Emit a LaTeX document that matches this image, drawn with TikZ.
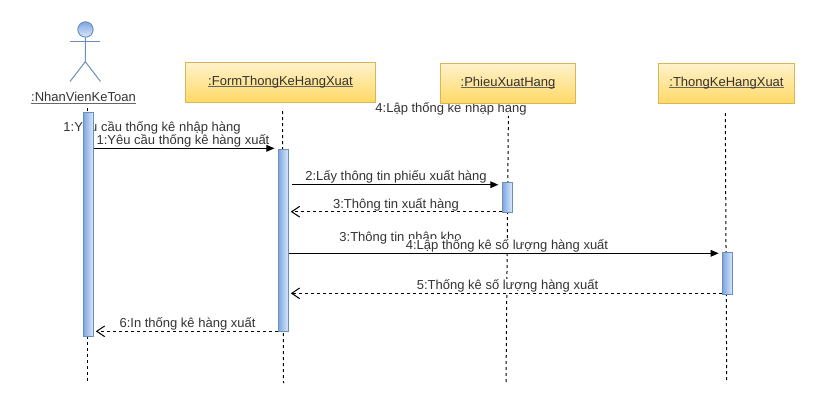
\documentclass[tikz,border=0pt]{standalone}
\usepackage{fontspec}
\setmainfont{Liberation Sans}
\usetikzlibrary{arrows.meta}
\definecolor{txt}{HTML}{333333}
\definecolor{blueline}{HTML}{6C8EBF}
\definecolor{bluelight}{HTML}{DAE8FC}
\definecolor{bluedark}{HTML}{7EA6E0}
\definecolor{yellowline}{HTML}{D6B656}
\definecolor{yellowlight}{HTML}{FFF2CC}
\definecolor{yellowdark}{HTML}{FFD966}
\newcommand{\ulname}[1]{\setbox0=\hbox{#1}\rlap{\textcolor{black!60}{\rule[-1.1pt]{\wd0}{.7pt}}}\box0}
\tikzset{
  objbox/.style={draw=yellowline,line width=.75pt,top color=yellowlight,bottom color=yellowdark,minimum height=30pt,inner sep=0pt,text=txt,font=\fontsize{9.75pt}{11pt}\selectfont},
  actbar/.style={draw=blueline,line width=.75pt,left color=bluedark,right color=bluelight,minimum width=7.5pt,inner sep=0pt},
  life/.style={line width=.75pt,dash pattern=on 2.25pt off 2.25pt},
  call/.style={line width=.75pt,-{Triangle[length=6pt,width=5pt]},shorten >=2.5pt},
  reply/.style={line width=.75pt,dash pattern=on 2.25pt off 2.25pt,-{Straight Barb[length=6pt,width=8pt]},shorten >=1.5pt},
  msg/.style={fill=white,inner sep=0pt,minimum height=10.5pt,text=txt,font=\fontsize{9.75pt}{10.5pt}\selectfont},
  ghost/.style={inner sep=0pt,minimum height=10.5pt,text=txt,font=\fontsize{9.75pt}{10.5pt}\selectfont},
  actorline/.style={draw=blueline,line width=.75pt},
}
\begin{document}
\begin{tikzpicture}[x=0.75pt,y=-0.75pt]
\useasboundingbox (0,0) rectangle (817,415);
% free ends
\coordinate (t1) at (87.5,108);
\coordinate (e1) at (87.5,383);
\coordinate (t2) at (282.5,111);
\coordinate (e2) at (283.5,383);
\coordinate (t3) at (508.5,103);
\coordinate (e3) at (506,383);
\coordinate (t4) at (725.3,113);
\coordinate (e4) at (726.7,383);
\coordinate (m1) at (0,148.3);
\coordinate (m2) at (0,184.7);
\coordinate (m3) at (0,211.7);
\coordinate (m4) at (0,253.3);
\coordinate (m5) at (0,293.3);
\coordinate (m6) at (0,331.3);
% lifelines
\draw[life] (t1) -- (e1);
\draw[life] (t2) -- (e2);
\draw[life] (t3) -- (e3);
\draw[life] (t4) -- (e4);
% labels that lie behind other items
\node[ghost,fill=white] (g4) at (451,108.7) {4:Lập thống kê nhập hàng};
\node[ghost] (g1) at (152,128) {1:Yêu cầu thống kê nhập hàng};
\node[ghost] (g3) at (400.5,238) {3:Thông tin nhập kho};
% objects
\node[objbox,minimum width=143pt] (form) at (280.5,82) {\raisebox{-1.5pt}{\ulname{:FormThongKeHangXuat}}};
\node[objbox,minimum width=101.5pt] (phieu) at (508,83.3) {\raisebox{-1.5pt}{\ulname{:PhieuXuatHang}}};
\node[objbox,minimum width=102.3pt] (thong) at (726.5,83.3) {\raisebox{-1.5pt}{\ulname{:ThongKeHangXuat}}};
% activation bars
\node[actbar,minimum height=168pt] (b1) at (88.3,224.3) {};
\node[actbar,minimum height=136.5pt] (b2) at (283.3,240.5) {};
\node[actbar,minimum height=22.2pt] (b3) at (507.2,197.5) {};
\node[actbar,minimum height=31.5pt] (b4) at (727.5,273.3) {};
% actor
\node[circle,actorline,top color=bluedark,bottom color=bluelight,minimum size=11.5pt,inner sep=0pt] (head) at (85.5,29.5) {};
\coordinate (armL) at (70,41);
\coordinate (armR) at (100.3,41);
\coordinate (hip) at (85.3,61.7);
\coordinate (legL) at (70,81.5);
\coordinate (legR) at (100.5,81.5);
\draw[actorline] (armL) -- (armR);
\draw[actorline] (head) -- (hip);
\draw[actorline] (legL) -- (hip) -- (legR);
\node[text=txt,inner sep=0pt,font=\fontsize{9.75pt}{11pt}\selectfont] (actorname) at (83.5,98) {\ulname{:NhanVienKeToan}};
% message labels
\node[msg] (l1) at (183,141) {1:Yêu cầu thống kê hàng xuất};
\node[msg] (l2) at (396,177) {2:Lấy thông tin phiếu xuất hàng};
\node[msg] (l3) at (396,204.5) {3:Thông tin xuất hàng};
\node[msg] (l4) at (507,245.5) {4:Lập thống kê số lượng hàng xuất};
\node[msg] (l5) at (507.5,285.5) {5:Thống kê số lượng hàng xuất};
\node[msg] (l6) at (187.5,323.5) {6:In thống kê hàng xuất};
% messages
\draw[call] (b1.east |- m1) -- (b2.west |- m1);
\draw[call] (b2.east |- m2) ++(3,0) -- (b3.west |- m2);
\draw[reply] (b3.west |- m3) -- (b2.east |- m3);
\draw[call] (b2.east |- m4) -- (b4.west |- m4);
\draw[reply] (b4.west |- m5) -- (b2.east |- m5);
\draw[reply] (b2.west |- m6) -- (b1.east |- m6);
\end{tikzpicture}
\end{document}
